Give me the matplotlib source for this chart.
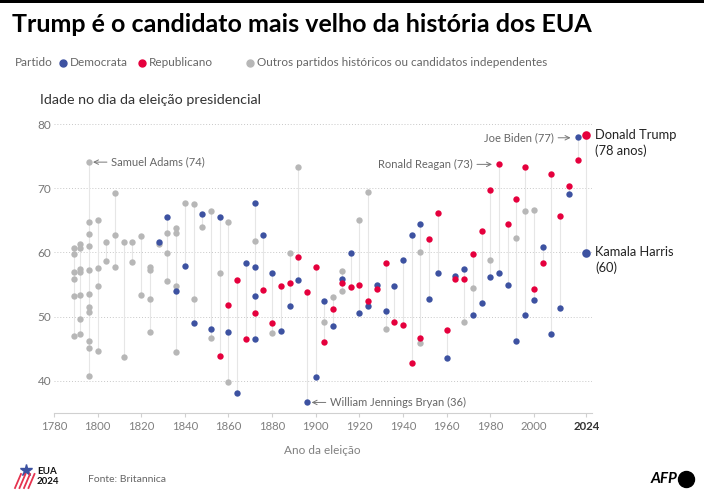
import numpy as np
import pandas as pd
import matplotlib
matplotlib.use("Agg")
import matplotlib.pyplot as plt
from matplotlib.lines import Line2D
from matplotlib.patches import Rectangle

plt.rcParams['font.family'] = ['Lato', 'DejaVu Sans']

# outros partidos / independentes
oth_years = [1789, 1789, 1789, 1789, 1789, 1789,
             1792, 1792, 1792, 1792, 1792, 1792, 1792,
             1796, 1796, 1796, 1796, 1796, 1796, 1796, 1796, 1796, 1796, 1796,
             1800, 1800, 1800, 1800,
             1804, 1804,
             1808, 1808, 1808,
             1812, 1812,
             1816, 1816,
             1820, 1820,
             1824, 1824, 1824, 1824,
             1828,
             1832, 1832, 1832,
             1836, 1836, 1836, 1836,
             1840,
             1844, 1844,
             1848,
             1852, 1852,
             1856,
             1860, 1860,
             1872, 1880, 1888, 1892, 1904, 1908,
             1912, 1912,
             1920, 1924, 1932,
             1948, 1948,
             1968, 1972, 1980, 1992, 1996, 2000]
oth_ages = [60.7, 59.7, 57.0, 55.8, 53.2, 46.9,
            61.3, 60.7, 57.4, 57.0, 53.3, 49.6, 47.3,
            74.1, 64.7, 62.9, 61.0, 57.3, 53.6, 51.5, 50.7, 46.2, 45.1, 40.8,
            65.0, 57.6, 54.8, 44.7,
            61.6, 58.6,
            69.3, 62.7, 57.7,
            61.6, 43.7,
            61.6, 58.5,
            62.5, 53.3,
            57.7, 57.2, 52.7, 47.6,
            61.25,
            63.1, 59.9, 55.6,
            63.75, 63.0, 54.8, 44.5,
            67.7,
            67.55, 52.8,
            64.0,
            66.5, 46.6,
            56.8,
            64.7, 39.8,
            61.8, 47.4, 59.95, 73.3, 49.1, 53.0,
            57.1, 54.0,
            65.0, 69.4, 48.0,
            60.1, 45.9,
            49.2, 54.4, 58.75, 62.3, 66.4, 66.7]

# democratas
dem_years = [1828, 1832, 1836, 1840, 1844, 1848, 1852, 1856, 1860, 1864, 1868,
             1872, 1872, 1872, 1872,
             1876, 1880, 1884, 1888, 1892, 1896, 1900, 1904, 1908, 1912, 1916,
             1920, 1924, 1928, 1932, 1936, 1940, 1944, 1948, 1952, 1956, 1960,
             1964, 1968, 1972, 1976, 1980, 1984, 1988, 1992, 1996, 2000, 2004,
             2008, 2012, 2016, 2020, 2024]
dem_ages = [61.6, 65.6, 54.0, 57.9, 49.0, 66.0, 48.0, 65.6, 47.55, 38.0, 58.4,
            67.8, 57.7, 53.2, 46.5,
            62.8, 56.8, 47.7, 51.7, 55.7, 36.6, 40.5, 52.5, 48.6, 55.9, 59.9,
            50.6, 51.6, 54.9, 50.8, 54.8, 58.75, 62.8, 64.5, 52.8, 56.8, 43.5,
            56.3, 57.45, 50.3, 52.1, 56.1, 56.8, 55.0, 46.25, 50.3, 52.6, 60.9,
            47.3, 51.3, 69.1, 78.0, 59.95]

# republicanos
rep_years = [1856, 1860, 1864, 1868, 1872, 1876, 1880, 1884, 1888, 1892, 1896,
             1900, 1904, 1908, 1912, 1916, 1920, 1924, 1928, 1932, 1936, 1940,
             1944, 1948, 1952, 1956, 1960, 1964, 1968, 1972, 1976, 1980, 1984,
             1988, 1992, 1996, 2000, 2004, 2008, 2012, 2016, 2020, 2024]
rep_ages = [43.8, 51.8, 55.7, 46.5, 50.5, 54.1, 49.0, 54.8, 55.2, 59.3, 53.8,
            57.8, 46.1, 51.15, 55.2, 54.6, 55.0, 52.4, 54.3, 58.3, 49.2, 48.75,
            42.7, 46.7, 62.1, 66.1, 47.9, 55.8, 55.8, 59.8, 63.3, 69.7, 73.75,
            64.4, 68.4, 73.3, 54.3, 58.3, 72.2, 65.7, 70.4, 74.4, 78.4]

x_ticks = [1780, 1800, 1820, 1840, 1860, 1880, 1900, 1920, 1940, 1960, 1980, 2000, 2024]
y_ticks = [40, 50, 60, 70, 80]

C_DEM = '#3d52a1'
C_REP = '#e5003d'
C_OTH = '#b7b7b7'

df = pd.concat([
    pd.DataFrame({'year': oth_years, 'age': oth_ages, 'party': 'oth'}),
    pd.DataFrame({'year': dem_years, 'age': dem_ages, 'party': 'dem'}),
    pd.DataFrame({'year': rep_years, 'age': rep_ages, 'party': 'rep'}),
])

fig = plt.figure(figsize=(7.04, 5.0), dpi=100)
ax = fig.add_axes([0.0766, 0.1746, 0.7639, 0.6024])
ax.set_xlim(1780, 2026.5)
ax.set_ylim(35, 82)

# linhas verticais por eleição
g = df.groupby('year')['age'].agg(['min', 'max'])
ax.vlines(g.index, g['min'], g['max'], color='#e6e6e6', lw=0.8, zorder=1)

for party, col, z in [('oth', C_OTH, 2), ('dem', C_DEM, 3), ('rep', C_REP, 4)]:
    d = df[df.party == party]
    small = d[d.year < 2024]
    big = d[d.year == 2024]
    ax.scatter(small.year, small.age, s=21, color=col, lw=0, zorder=z)
    ax.scatter(big.year, big.age, s=38, color=col, lw=0, zorder=z)

ax.set_yticks(y_ticks)
ax.set_xticks(x_ticks)
ax.set_xticklabels([str(t) for t in x_ticks])
ax.yaxis.grid(True, ls=(0, (1, 2)), color='#c8c8c8', lw=0.7)
ax.set_axisbelow(True)
for s in ['top', 'right', 'left']:
    ax.spines[s].set_visible(False)
ax.spines['bottom'].set_color('#d0d0d0')
ax.spines['bottom'].set_linewidth(0.8)
ax.tick_params(axis='y', length=0, pad=2, labelsize=8.5, labelcolor='#777777')
ax.tick_params(axis='x', length=3, width=0.8, color='#d0d0d0', pad=3,
               labelsize=8.2, labelcolor='#808080')
lab = ax.get_xticklabels()[-1]
lab.set_color('#333333')
lab.set_fontweight('bold')

# anotações
arrow = dict(arrowstyle='->', color='#777777', lw=0.7, shrinkA=1, shrinkB=0)
ax.annotate('Samuel Adams (74)', xy=(1797.9, 74.1), xytext=(1806.2, 74.1),
            ha='left', va='center', fontsize=8, color='#666666', arrowprops=arrow)
ax.annotate('William Jennings Bryan (36)', xy=(1898.1, 36.6), xytext=(1906.5, 36.6),
            ha='left', va='center', fontsize=8, color='#666666', arrowprops=arrow)
ax.annotate('Ronald Reagan (73)', xy=(1980.8, 73.75), xytext=(1972.0, 73.75),
            ha='right', va='center', fontsize=8, color='#666666', arrowprops=arrow)
ax.annotate('Joe Biden (77)', xy=(2016.8, 77.9), xytext=(2009.2, 77.9),
            ha='right', va='center', fontsize=8, color='#666666', arrowprops=arrow)
ax.text(2028.2, 78.3, 'Donald Trump', ha='left', va='center', fontsize=9.3, color='#222222')
ax.text(2028.2, 75.9, '(78 anos)', ha='left', va='center', fontsize=9.3, color='#222222')
ax.text(2028.2, 60.0, 'Kamala Harris', ha='left', va='center', fontsize=9.3, color='#222222')
ax.text(2028.2, 57.6, '(60)', ha='left', va='center', fontsize=9.3, color='#222222')

# título e legenda
fig.add_artist(Rectangle((0, 1 - 3 / 500), 1, 3 / 500, transform=fig.transFigure,
                         color='black', lw=0))
fig.text(12 / 704, 1 - 25 / 500, 'Trump é o candidato mais velho da história dos EUA',
         ha='left', va='center', fontsize=18, fontweight='bold', color='black')
ly = 1 - 63 / 500
fig.text(15 / 704, ly, 'Partido', ha='left', va='center', fontsize=8.5, color='#666666')
for xd, xt, col, txt in [(63, 70, C_DEM, 'Democrata'),
                         (142, 149, C_REP, 'Republicano'),
                         (249.7, 257, C_OTH, 'Outros partidos históricos ou candidatos independentes')]:
    fig.add_artist(Line2D([xd / 704], [ly], marker='o', ms=5, color=col, lw=0,
                          transform=fig.transFigure))
    fig.text(xt / 704, ly, txt, ha='left', va='center', fontsize=8.5, color='#666666')

fig.text(40 / 704, 1 - 100 / 500, 'Idade no dia da eleição presidencial',
         ha='left', va='center', fontsize=10.3, color='#333333')
fig.text(322.8 / 704, 1 - 451 / 500, 'Ano da eleição',
         ha='center', va='center', fontsize=8.5, color='#808080')

# rodapé
fig.text(88 / 704, 1 - 480 / 500, 'Fonte: Britannica', ha='left', va='center',
         fontsize=7.5, color='#666666')
fig.add_artist(Line2D([26 / 704], [1 - 470 / 500], marker='*', ms=9, color=C_DEM, lw=0,
                      transform=fig.transFigure))
for k in range(4):
    x0 = 15 + k * 4.5
    fig.add_artist(Line2D([x0 / 704, (x0 + 6) / 704], [1 - 488 / 500, 1 - 474 / 500],
                          color='#e5334f', lw=1.3, transform=fig.transFigure))
fig.text(37 / 704, 1 - 472 / 500, 'EUA', ha='left', va='center', fontsize=7,
         fontweight='bold', color='#111111')
fig.text(37 / 704, 1 - 481 / 500, '2024', ha='left', va='center', fontsize=7,
         fontweight='bold', color='#111111')
fig.text(677 / 704, 1 - 479 / 500, 'AFP', ha='right', va='center', fontsize=11,
         fontweight='bold', fontstyle='italic', color='black')
fig.add_artist(Line2D([685.5 / 704], [1 - 479 / 500], marker='o', ms=11.5, color='black',
                      lw=0, transform=fig.transFigure))

fig.savefig('out.png', dpi=100, facecolor='white')
